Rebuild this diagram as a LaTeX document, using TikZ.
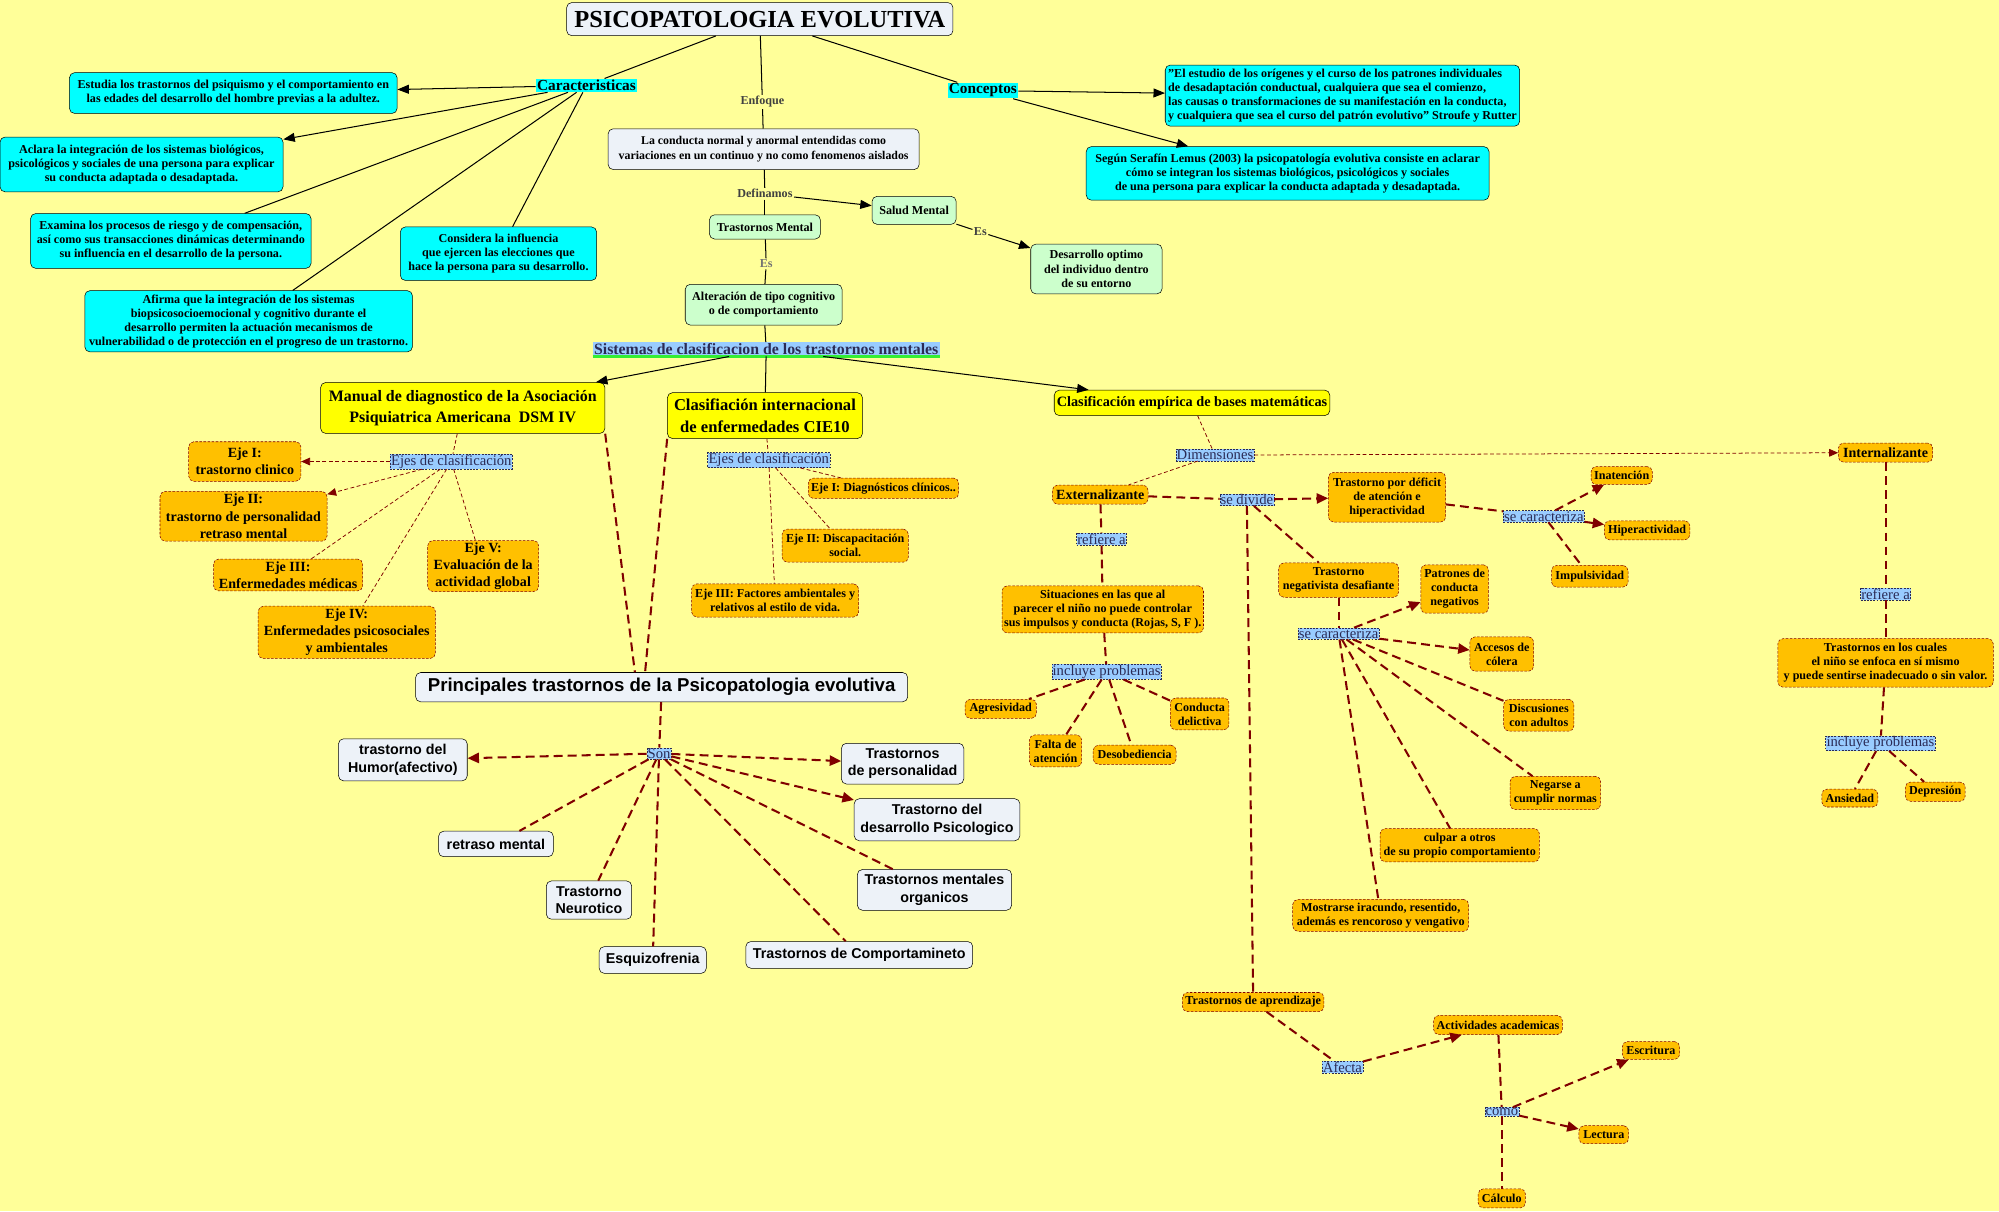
\documentclass[tikz,border=0pt]{standalone}
\usepackage{fontspec}
\setmainfont{Liberation Serif}
\newfontfamily\boxsans{Liberation Sans}
\usepackage{xcolor}
\definecolor{Butter}{HTML}{FFFF99}
\definecolor{Aqua}{HTML}{00FFFF}
\definecolor{Mist}{HTML}{EDF2F8}
\definecolor{Mint}{HTML}{CCFFCC}
\definecolor{Lemon}{HTML}{FFFF00}
\definecolor{Amber}{HTML}{FFC000}
\definecolor{Sky}{HTML}{99CCFF}
\definecolor{Maroon}{HTML}{800000}
\definecolor{Ink}{HTML}{2B2B55}
\definecolor{Lime}{HTML}{33EE33}
\colorlet{paper}{Butter}
\colorlet{aqua}{Aqua}
\colorlet{mist}{Mist}
\colorlet{mint}{Mint}
\colorlet{lemon}{Lemon}
\colorlet{amber}{Amber}
\colorlet{sky}{Sky}
\colorlet{maroon}{Maroon}
\colorlet{ink}{Ink}
\colorlet{lime}{Lime}
\usepackage{tikz}
\usetikzlibrary{arrows.meta,positioning}

\begin{document}
\begin{tikzpicture}[x=1pt,y=-1pt,
  every node/.style={align=center},
  dims/.style 2 args={minimum width=#1pt,minimum height=#2pt},
  aquabox/.style={draw,fill=aqua,rounded corners=4pt,inner sep=2pt,font=\bfseries\fontsize{9.5}{11}\selectfont},
  mistbox/.style={draw,fill=mist,rounded corners=4pt,inner sep=2pt},
  mintbox/.style={draw,fill=mint,rounded corners=4pt,inner sep=2pt,font=\bfseries\fontsize{9.5}{11.5}\selectfont},
  lemonbox/.style={draw,fill=lemon,rounded corners=4pt,inner sep=2pt,font=\bfseries\fontsize{12.5}{16}\selectfont},
  amberbox/.style={draw=maroon,dash pattern=on 2pt off 1.2pt,fill=amber,rounded corners=4pt,inner sep=1.5pt,font=\bfseries\fontsize{9.5}{11}\selectfont},
  bigamber/.style={amberbox,font=\bfseries\fontsize{11}{13.5}\selectfont},
  sansbox/.style={mistbox,font=\boxsans\bfseries\fontsize{11.2}{13.5}\selectfont},
  linkbox/.style={fill=sky,draw=ink,dash pattern=on 1.5pt off 1pt,text=ink,inner sep=0.6pt,font=\fontsize{11.5}{13}\selectfont},
  linkword/.style={text=black!75,inner sep=1pt,font=\bfseries\fontsize{9.5}{11}\selectfont},
  cyantag/.style={fill=aqua,inner sep=1pt,font=\bfseries\fontsize{12}{14}\selectfont},
  blackline/.style={line width=0.8pt},
  blackarrow/.style={blackline,-{Triangle[length=9pt,width=7pt]}},
  thinred/.style={maroon,line width=0.6pt,dash pattern=on 3pt off 2pt},
  thinredarrow/.style={thinred,-{Triangle[length=7pt,width=6pt]}},
  thickred/.style={maroon,line width=1.6pt,dash pattern=on 7pt off 4pt},
  thickredarrow/.style={thickred,-{Triangle[length=9pt,width=8pt]}}]
\fill[paper] (0,0) rectangle (1568,950);
\useasboundingbox (0,0) rectangle (1568,950);

\node[mistbox,font=\bfseries\fontsize{19.2}{22}\selectfont,dims={303}{26}] (tit) at (596,15) {PSICOPATOLOGIA EVOLUTIVA};
\node[cyantag] (car) at (460,67) {Caracteristicas};
\node[aquabox,dims={257}{32}] (est) at (183,73) {Estudia los trastornos del psiquismo y el comportamiento en\\las edades del desarrollo del hombre previas a la adultez.};
\node[aquabox,dims={222}{43}] (acl) at (111,129) {Aclara la integración de los sistemas biológicos,\\psicológicos y sociales de una persona para explicar\\su conducta adaptada o desadaptada.};
\node[aquabox,dims={220}{43}] (exa) at (134,189) {Examina los procesos de riesgo y de compensación,\\así como sus transacciones dinámicas determinando\\su influencia en el desarrollo de la persona.};
\node[aquabox,dims={154}{42}] (con) at (391,199) {Considera la influencia\\que ejercen las elecciones que\\hace la persona para su desarrollo.};
\node[aquabox,dims={257}{48}] (afi) at (195,252) {Afirma que la integración de los sistemas\\biopsicosocioemocional y cognitivo durante el\\desarrollo permiten la actuación mecanismos de\\vulnerabilidad o de protección en el progreso de un trastorno.};
\node[cyantag] (cpt) at (771,71) {Conceptos};
\node[aquabox,align=left,dims={278}{48}] (cit) at (1053,75) {"El estudio de los orígenes y el curso de los patrones individuales\\de desadaptación conductual, cualquiera que sea el comienzo,\\las causas o transformaciones de su manifestación en la conducta,\\y cualquiera que sea el curso del patrón evolutivo" Stroufe y Rutter};
\node[aquabox,dims={316}{42}] (lem) at (1010,136) {Según Serafín Lemus (2003) la psicopatología evolutiva consiste en aclarar\\cómo se integran los sistemas biológicos, psicológicos y sociales\\de una persona para explicar la conducta adaptada y desadaptada.};

\node[linkword] (enf) at (598,80) {Enfoque};
\node[mistbox,font=\bfseries\fontsize{9.3}{11}\selectfont,dims={244}{32}] (nor) at (599,117) {La conducta normal y anormal entendidas como\\variaciones en un continuo y no como fenomenos aislados};
\node[linkword] (def) at (600,152) {Definamos};
\node[mintbox,dims={66}{22}] (sal) at (717,165) {Salud Mental};
\node[mintbox,dims={87}{19}] (trm) at (600,178) {Trastornos Mental};
\node[linkword] (esa) at (769,182) {Es};
\node[mintbox,dims={103}{39}] (des) at (860,211) {Desarrollo optimo\\del individuo dentro\\de su entorno};
\node[linkword,text=black!55] (esb) at (601,207) {Es};
\node[mintbox,dims={123}{32}] (alt) at (599,239) {Alteración de tipo cognitivo\\o de comportamiento};
\node[fill=sky,text=ink,inner sep=1pt,font=\bfseries\fontsize{12.4}{14}\selectfont] (sis) at (601,274) {Sistemas de clasificacion de los trastornos mentales};
\draw[lime,line width=2.5pt] (sis.south west) -- (sis.south east);

\node[lemonbox,dims={223}{40}] (dsm) at (363,320) {Manual de diagnostico de la Asociación\\Psiquiatrica Americana\ \ DSM IV};
\node[lemonbox,font=\bfseries\fontsize{13}{17}\selectfont,dims={153}{36}] (cie) at (600,326) {Clasifiación internacional\\de enfermedades CIE10};
\node[lemonbox,font=\bfseries\fontsize{11.2}{14}\selectfont,dims={215}{20}] (emp) at (935,316) {Clasificación empírica de bases matemáticas};

\node[linkbox] (eja) at (354,362) {Ejes de clasificación};
\node[bigamber,dims={88}{31}] (a1) at (192,362) {Eje I:\\trastorno clinico};
\node[bigamber,dims={131}{39}] (a2) at (191,405) {Eje II:\\trastorno de personalidad\\retraso mental};
\node[bigamber,dims={117}{25}] (a3) at (226,451) {Eje III:\\Enfermedades médicas};
\node[bigamber,dims={139}{41}] (a4) at (272,496) {Eje IV:\\Enfermedades psicosociales\\y ambientales};
\node[bigamber,dims={87}{40}] (a5) at (379,444) {Eje V:\\Evaluación de la\\actividad global};

\node[linkbox] (ejb) at (603,361) {Ejes de clasificación};
\node[amberbox,dims={118}{16}] (b1) at (693,383) {Eje I: Diagnósticos clínicos..};
\node[amberbox,dims={99}{26}] (b2) at (663,428) {Eje II: Discapacitación\\social.};
\node[amberbox,dims={131}{26}] (b3) at (608,471) {Eje III: Factores ambientales y\\relativos al estilo de vida.};

\node[linkbox] (dim) at (953,357) {Dimensiones};
\node[bigamber,dims={74}{15}] (int) at (1479,355) {Internalizante};
\node[bigamber,dims={75}{15}] (ext) at (863,388) {Externalizante};
\node[linkbox] (div) at (978,392) {se divide};
\node[amberbox,dims={92}{39}] (tda) at (1088,390) {Trastorno por déficit\\de atención e\\hiperactividad};
\node[linkbox] (cra) at (1211,405) {se caracteriza};
\node[amberbox,dims={48}{14}] (ina) at (1272,373) {Inatención};
\node[amberbox,dims={67}{15}] (hip) at (1292,416) {Hiperactividad};
\node[amberbox,dims={60}{17}] (imp) at (1247,452) {Impulsividad};
\node[linkbox] (rfa) at (864,423) {refiere a};
\node[amberbox,dims={158}{37}] (sit) at (865,478) {Situaciones en las que al\\parecer el niño no puede controlar\\sus impulsos y conducta (Rojas, S, F ).};
\node[linkbox] (ipa) at (868,527) {incluye problemas};
\node[amberbox,dims={56}{15}] (agr) at (785,556) {Agresividad};
\node[amberbox,dims={41}{25}] (fal) at (828,589) {Falta de\\atención};
\node[amberbox,dims={65}{15}] (dso) at (890,592) {Desobediencia};
\node[amberbox,dims={46}{25}] (del) at (941,560) {Conducta\\delictiva};
\node[amberbox,dims={94}{27}] (tnd) at (1050,455) {Trastorno\\negativista desafiante};
\node[linkbox] (crb) at (1050,497) {se caracteriza};
\node[amberbox,dims={53}{38}] (pat) at (1141,462) {Patrones de\\conducta\\negativos};
\node[amberbox,dims={50}{27}] (col) at (1178,513) {Accesos de\\cólera};
\node[amberbox,dims={55}{25}] (dis) at (1207,561) {Discusiones\\con adultos};
\node[amberbox,dims={71}{26}] (neg) at (1220,622) {Negarse a\\cumplir normas};
\node[amberbox,dims={125}{26}] (cul) at (1145,663) {culpar a otros\\de su propio comportamiento};
\node[amberbox,dims={138}{25}] (ira) at (1083,718) {Mostrarse iracundo, resentido,\\además es rencoroso y vengativo};
\node[linkbox] (rfb) at (1479,466) {refiere a};
\node[amberbox,dims={169}{38}] (ien) at (1479,520) {Trastornos en los cuales\\el niño se enfoca en sí mismo\\y puede sentirse inadecuado o sin valor.};
\node[linkbox] (ipb) at (1475,583) {incluye problemas};
\node[amberbox,dims={44}{14}] (ans) at (1451,626) {Ansiedad};
\node[amberbox,dims={47}{15}] (dep) at (1518,621) {Depresión};
\node[amberbox,dims={111}{15}] (apr) at (983,786) {Trastornos de aprendizaje};
\node[linkbox] (afe) at (1053,837) {Afecta};
\node[amberbox,dims={101}{15}] (aca) at (1175,804) {Actividades academicas};
\node[linkbox] (com) at (1178,872) {como};
\node[amberbox,dims={45}{14}] (esc) at (1295,824) {Escritura};
\node[amberbox,dims={39}{14}] (lec) at (1258,890) {Lectura};
\node[amberbox,dims={37}{15}] (cal) at (1178,940) {Cálculo};

\node[sansbox,font=\boxsans\bfseries\fontsize{14.6}{17}\selectfont,dims={386}{23}] (pri) at (519,539) {Principales trastornos de la Psicopatologia evolutiva};
\node[linkbox] (son) at (517,591) {Son};
\node[sansbox,dims={101}{33}] (hum) at (316,596) {trastorno del\\Humor(afectivo)};
\node[sansbox,dims={96}{32}] (per) at (708,599) {Trastornos\\de personalidad};
\node[sansbox,dims={130}{33}] (dps) at (735,643) {Trastorno del\\desarrollo Psicologico};
\node[sansbox,dims={90}{20}] (ret) at (389,662) {retraso mental};
\node[sansbox,dims={67}{30}] (neu) at (462,706) {Trastorno\\Neurotico};
\node[sansbox,dims={84}{21}] (esq) at (512,753) {Esquizofrenia};
\node[sansbox,dims={121}{32}] (org) at (733,698) {Trastornos mentales\\organicos};
\node[sansbox,dims={178}{21}] (cmp) at (674,749) {Trastornos de Comportamineto};

\draw[blackline] (tit)--(car);\draw[blackline] (tit)--(enf);\draw[blackline] (tit)--(cpt);
\draw[blackarrow] (car)--(est);\draw[blackarrow] (car)--(acl);
\draw[blackline] (car)--(exa);\draw[blackline] (car)--(con);\draw[blackline] (car)--(afi);
\draw[blackarrow] (cpt)--(cit);\draw[blackarrow] (cpt)--(lem);
\draw[blackline] (enf)--(nor);\draw[blackline] (nor)--(def);\draw[blackline] (def)--(trm);
\draw[blackarrow] (def)--(sal);\draw[blackline] (sal)--(esa);\draw[blackarrow] (esa)--(des);
\draw[blackline] (trm)--(esb);\draw[blackline] (esb)--(alt);\draw[blackline] (alt)--(sis);
\draw[blackarrow] (sis)--(dsm);\draw[blackline] (sis)--(cie);\draw[blackarrow] (sis)--(emp);

\draw[thinred] (dsm)--(eja);
\draw[thinredarrow] (eja)--(a1);\draw[thinredarrow] (eja)--(a2);
\draw[thinred] (eja)--(a3);\draw[thinred] (eja)--(a4);\draw[thinred] (eja)--(a5);
\draw[thinred] (cie)--(ejb);
\draw[thinred] (ejb)--(b1);\draw[thinred] (ejb)--(b2);\draw[thinred] (ejb)--(b3);
\draw[thinred] (emp)--(dim);\draw[thinredarrow] (dim)--(int);\draw[thinred] (dim)--(ext);

\draw[thickred] (ext)--(div);\draw[thickredarrow] (div)--(tda);
\draw[thickred] (div)--(tnd);\draw[thickred] (div)--(apr);
\draw[thickred] (tda)--(cra);\draw[thickredarrow] (cra)--(ina);\draw[thickredarrow] (cra)--(hip);\draw[thickred] (cra)--(imp);
\draw[thickred] (ext)--(rfa);\draw[thickred] (rfa)--(sit);\draw[thickred] (sit)--(ipa);
\draw[thickred] (ipa)--(agr);\draw[thickred] (ipa)--(fal);\draw[thickred] (ipa)--(dso);\draw[thickred] (ipa)--(del);
\draw[thickred] (tnd)--(crb);\draw[thickredarrow] (crb)--(pat);\draw[thickredarrow] (crb)--(col);
\draw[thickred] (crb)--(dis);\draw[thickred] (crb)--(neg);\draw[thickred] (crb)--(cul);\draw[thickred] (crb)--(ira);
\draw[thickred] (int)--(rfb);\draw[thickred] (rfb)--(ien);\draw[thickred] (ien)--(ipb);
\draw[thickred] (ipb)--(ans);\draw[thickred] (ipb)--(dep);
\draw[thickred] (apr)--(afe);\draw[thickredarrow] (afe)--(aca);\draw[thickred] (aca)--(com);
\draw[thickredarrow] (com)--(esc);\draw[thickredarrow] (com)--(lec);\draw[thickred] (com)--(cal);

\draw[thickred] (dsm.south east)--([xshift=-21pt]pri.north);
\draw[thickred] (cie.south west)--([xshift=-13pt]pri.north);
\draw[thickred] (pri)--(son);
\draw[thickredarrow] (son)--(hum);\draw[thickredarrow] (son)--(per);\draw[thickredarrow] (son)--(dps);
\draw[thickred] (son)--(ret);\draw[thickred] (son)--(neu);\draw[thickred] (son)--(esq);
\draw[thickred] (son)--(org);\draw[thickred] (son)--(cmp);
\end{tikzpicture}
\end{document}
